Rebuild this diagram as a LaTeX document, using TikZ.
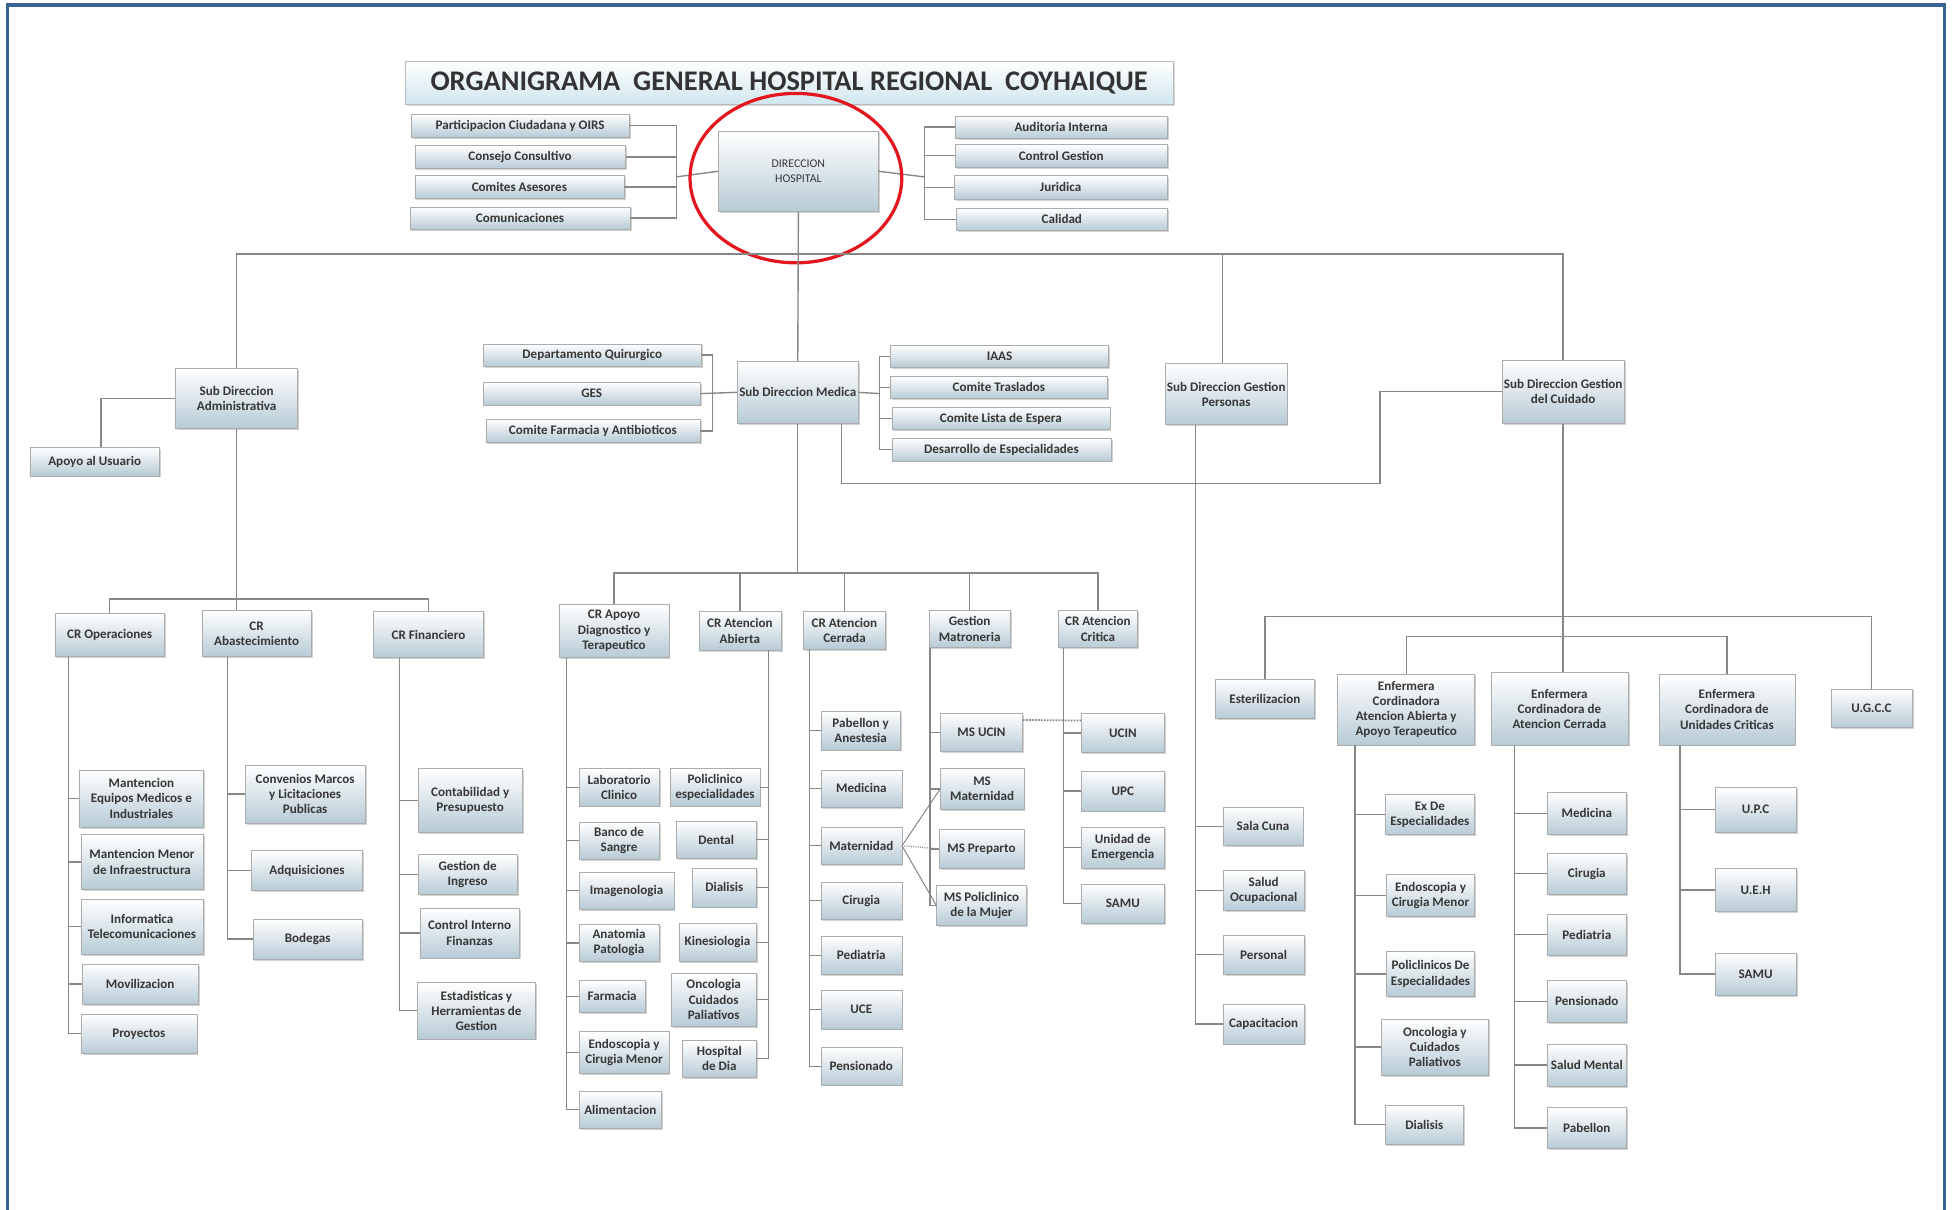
\documentclass[tikz,border=0pt]{standalone}
\usepackage{fontspec}
\setmainfont{Carlito}
\usetikzlibrary{shadows,shapes.geometric}
\definecolor{frameblue}{RGB}{58,99,150}
\definecolor{boxbot}{RGB}{184,203,214}
\definecolor{titlebot}{RGB}{208,230,238}
\definecolor{txt}{RGB}{55,55,55}
\definecolor{ln}{RGB}{135,135,135}
\definecolor{ringred}{RGB}{228,22,30}
\tikzset{
  box/.style={draw=gray!65, top color=white, bottom color=boxbot,
    drop shadow={shadow xshift=1.3pt,shadow yshift=-1.3pt,opacity=0.35},
    text=txt, font=\fontsize{10.5}{12.2}\selectfont\bfseries, align=center, inner sep=1pt},
  titlebox/.style={draw=gray!55, top color=white, bottom color=titlebot,
    drop shadow={shadow xshift=1.5pt,shadow yshift=-1.5pt,opacity=0.3},
    text=black!80, font=\fontsize{22.8}{27}\selectfont\bfseries, inner sep=1pt},
  conn/.style={draw=ln, line width=1.1pt},
  thinconn/.style={draw=ln, line width=0.8pt},
}
\newcommand\bx[7][]{\node[box,minimum width={#4-#2},minimum height={#5-#3},#1] (#6) at ({(#2+#4)/2},{(#3+#5)/2}) {#7};}
\begin{document}
\begin{tikzpicture}[x=1pt,y=-1pt]
\useasboundingbox (0,0) rectangle (1568,971);
\fill[white] (0,0) rectangle (1568,971);
\draw[frameblue, line width=2.6pt] (6,975) -- (6,4) -- (1561,4) -- (1561,975);

% header
\node[titlebox, minimum width=617, minimum height=35] (title) at (633.5,66.5) {ORGANIGRAMA\ \ GENERAL HOSPITAL REGIONAL\ \ COYHAIQUE};
\bx[font=\fontsize{9.5}{11.5}\selectfont]{577}{105}{705}{170}{dir}{DIRECCION\\HOSPITAL}
\bx{330}{92}{505}{110}{pc}{Participacion Ciudadana y OIRS}
\bx{333}{117}{502}{135}{cc}{Consejo Consultivo}
\bx{333}{141}{501}{159}{ca}{Comites Asesores}
\bx{329}{166}{506}{184}{com}{Comunicaciones}
\bx{767}{93}{937}{111}{ai}{Auditoria Interna}
\bx{767}{116}{937}{134}{cg}{Control Gestion}
\bx{766}{141}{937}{160}{jur}{Juridica}
\bx{768}{167}{937}{185}{cal}{Calidad}
\coordinate (dL) at (543,142);
\coordinate (dR) at (742,142);
\foreach \c in {pc,cc,ca,com} \draw[conn] (\c.east) -| (dL);
\draw[conn] (dL) -- (dir.west);
\foreach \c in {ai,cg,jur,cal} \draw[conn] (\c.west) -| (dR);
\draw[conn] (dR) -- (dir.east);
\node[draw=ringred, line width=2.6pt, ellipse, minimum width=170, minimum height=136] (ring) at (639,143) {};

% level 2
\bx{141}{296}{239}{344}{sda}{Sub Direccion\\Administrativa}
\bx{24}{359}{128}{382}{apoyo}{Apoyo al Usuario}
\bx{592}{290}{689}{340}{sdm}{Sub Direccion Medica}
\bx{388}{276}{563}{294}{dq}{Departamento Quirurgico}
\bx{388}{307}{562}{325}{ges}{GES}
\bx{390}{337}{562}{355}{cfa}{Comite Farmacia y Antibioticos}
\bx{715}{277}{890}{295}{iaas}{IAAS}
\bx{715}{302}{889}{320}{ct}{Comite Traslados}
\bx{716}{327}{891}{345}{cle}{Comite Lista de Espera}
\bx{716}{352}{892}{370}{de}{Desarrollo de Especialidades}
\bx{936}{292}{1033}{341}{sdgp}{Sub Direccion Gestion\\Personas}
\bx{1206}{289}{1304}{340}{sdgc}{Sub Direccion Gestion\\del Cuidado}

\coordinate (b1) at (639,204);
\draw[conn] (dir.south) -- (sdm.north);
\draw[conn] (sda.north) |- (b1) -| (sdgc.north);
\draw[conn] (b1) -| ([xshift=-3pt]sdgp.north);
\draw[conn] (sda.west) -| ([xshift=5pt]apoyo.north);
\coordinate (sL) at (572,316);
\coordinate (sR) at (706,316);
\foreach \c in {dq,cfa} \draw[conn] (\c.east) -| (sL);
\draw[conn] (ges.east) -- (sdm.west);
\foreach \c in {iaas,ct,cle,de} \draw[conn] (\c.west) -| (sR);
\draw[conn] (sdm.east) -- (sR);
\coordinate (k) at (1108,388);
\draw[conn] ([xshift=35pt]sdm.south) |- (k) |- (sdgc.west);

% administrativa
\bx{44}{492}{132}{527}{crop}{CR Operaciones}
\bx{162}{490}{250}{527}{crab}{CR\\Abastecimiento}
\bx{300}{491}{388}{528}{crfin}{CR Financiero}
\coordinate (b2) at (194,481);
\draw[conn] (sda.south) -- (sda.south |- crab.north);
\draw[conn] (crop.north) |- (b2) -| (crfin.north);
\bx{64}{618}{163}{664}{me}{Mantencion\\Equipos Medicos e\\Industriales}
\bx{65}{670}{163}{714}{mm}{Mantencion Menor\\de Infraestructura}
\bx{65}{722}{163}{766}{it}{Informatica\\Telecomunicaciones}
\bx{66}{774}{159}{806}{mov}{Movilizacion}
\bx{65}{814}{158}{846}{proy}{Proyectos}
\foreach \c in {me,mm,it,mov,proy} \draw[conn] ([xshift=11pt]crop.south west) |- (\c.west);
\bx{197}{614}{293}{661}{conv}{Convenios Marcos\\y Licitaciones\\Publicas}
\bx{202}{683}{291}{715}{adq}{Adquisiciones}
\bx{203}{738}{291}{770}{bod}{Bodegas}
\foreach \c in {conv,adq,bod} \draw[conn] ([xshift=21pt]crab.south west) |- (\c.west);
\bx{336}{617}{419}{668}{cont}{Contabilidad y\\Presupuesto}
\bx{336}{686}{415}{718}{gi}{Gestion de\\Ingreso}
\bx{337}{729}{417}{769}{cif}{Control Interno\\Finanzas}
\bx{335}{789}{430}{834}{est1}{Estadisticas y\\Herramientas de\\Gestion}
\foreach \c in {cont,gi,cif,est1} \draw[conn] ([xshift=21pt]crfin.south west) |- (\c.west);

% medica
\bx{449}{485}{537}{528}{crad}{CR Apoyo\\Diagnostico y\\Terapeutico}
\bx{561}{491}{627}{522}{craa}{CR Atencion\\Abierta}
\bx{645}{491}{711}{521}{crac}{CR Atencion\\Cerrada}
\bx{746}{490}{811}{520}{gm}{Gestion\\Matroneria}
\bx{850}{490}{913}{520}{cracr}{CR Atencion\\Critica}
\coordinate (b3) at (640.5,460);
\draw[conn] (sdm.south) -- (b3);
\draw[conn] (crad.north) |- (b3) -| (cracr.north);
\foreach \c in {craa,crac,gm} \draw[conn] (b3) -| (\c.north);

\bx{465}{617}{529}{647}{lab}{Laboratorio\\Clinico}
\bx{465}{660}{529}{690}{bs}{Banco de\\Sangre}
\bx{465}{700}{541}{730}{img}{Imagenologia}
\bx{465}{742}{529}{772}{ap}{Anatomia\\Patologia}
\bx{465}{787}{518}{813}{farm}{Farmacia}
\bx{465}{828}{537}{862}{endo}{Endoscopia y\\Cirugia Menor}
\bx{465}{876}{531}{906}{alim}{Alimentacion}
\foreach \c in {lab,bs,img,ap,farm,endo,alim} \draw[conn] ([xshift=6pt]crad.south west) |- (\c.west);

\bx{538}{617}{610}{647}{poli}{Policlinico\\especialidades}
\bx{543}{659}{607}{689}{dental}{Dental}
\bx{556}{697}{607}{728}{dial}{Dialisis}
\bx{545}{741}{607}{772}{kine}{Kinesiologia}
\bx{539}{781}{607}{824}{onco}{Oncologia\\Cuidados\\Paliativos}
\bx{548}{835}{607}{865}{hdd}{Hospital\\de Dia}
\foreach \c in {poli,dental,dial,kine,onco,hdd} \draw[conn] ([xshift=-10pt]craa.south east) |- (\c.east);

\bx{659}{571}{723}{602}{pab}{Pabellon y\\Anestesia}
\bx{659}{618}{724}{648}{med}{Medicina}
\bx{659}{664}{724}{694}{mat}{Maternidad}
\bx{659}{708}{724}{738}{cir}{Cirugia}
\bx{659}{752}{724}{782}{ped}{Pediatria}
\bx{659}{795}{724}{826}{uce}{UCE}
\bx{659}{841}{724}{871}{pen}{Pensionado}
\foreach \c in {pab,med,mat,cir,ped,uce,pen} \draw[conn] ([xshift=5pt]crac.south west) |- (\c.west);

\bx{755}{573}{821}{603}{msucin}{MS UCIN}
\bx{755}{617}{822}{650}{msmat}{MS\\Maternidad}
\bx{754}{666}{822}{697}{msprep}{MS Preparto}
\bx{752}{711}{824}{743}{mspol}{MS Policlinico\\de la Mujer}
\foreach \c in {msucin,msmat,msprep,mspol} \draw[conn] ([xshift=1pt]gm.south west) |- (\c.west);
\draw[thinconn] (mat.east) -- (msmat.west);
\draw[thinconn] (mat.east) -- (mspol.west);
\draw[thinconn, densely dotted, line width=1pt] (mat.east) -- (msprep.west);

\bx{868}{573}{935}{604}{ucin}{UCIN}
\bx{868}{619}{935}{651}{upc}{UPC}
\bx{868}{664}{935}{697}{ue}{Unidad de\\Emergencia}
\bx{868}{710}{935}{741}{samua}{SAMU}
\foreach \c in {ucin,upc,ue,samua} \draw[conn] ([xshift=4pt]cracr.south west) |- (\c.west);
\draw[ln, densely dotted, line width=1.4pt] ([yshift=10pt]msucin.east) -- ([yshift=10pt]ucin.west);

% gestion personas
\bx{982}{648}{1046}{679}{sala}{Sala Cuna}
\bx{982}{699}{1047}{731}{salud}{Salud\\Ocupacional}
\bx{982}{751}{1047}{782}{pers}{Personal}
\bx{982}{806}{1047}{838}{cap}{Capacitacion}
\foreach \c in {sala,salud,pers,cap} \draw[conn] ([xshift=24pt]sdgp.south west) |- (\c.west);

% gestion del cuidado
\bx{976}{545}{1055}{577}{est}{Esterilizacion}
\bx{1074}{541}{1184}{598}{eaa}{Enfermera\\Cordinadora\\Atencion Abierta y\\Apoyo Terapeutico}
\bx{1197}{540}{1307}{598}{eac}{Enfermera\\Cordinadora de\\Atencion Cerrada}
\bx{1332}{541}{1441}{598}{euc}{Enfermera\\Cordinadora de\\Unidades Criticas}
\bx{1470}{553}{1535}{584}{ugcc}{U.G.C.C}
\coordinate (b4a) at (1255,495);
\coordinate (b4b) at (1255,511);
\draw[conn] (sdgc.south) -- (sdgc.south |- eac.north);
\draw[conn] (est.north) |- (b4a) -| (ugcc.north);
\draw[conn] (eaa.north) |- (b4b) -| (euc.north);

\bx{1112}{638}{1184}{670}{exde}{Ex De\\Especialidades}
\bx{1113}{702}{1184}{736}{endob}{Endoscopia y\\Cirugia Menor}
\bx{1113}{764}{1184}{800}{polde}{Policlinicos De\\Especialidades}
\bx{1109}{818}{1195}{863}{oncob}{Oncologia y\\Cuidados\\Paliativos}
\bx{1112}{887}{1175}{919}{dialb}{Dialisis}
\foreach \c in {exde,endob,polde,oncob,dialb} \draw[conn] ([xshift=14pt]eaa.south west) |- (\c.west);

\bx{1242}{636}{1306}{670}{medb}{Medicina}
\bx{1242}{685}{1306}{718}{cirb}{Cirugia}
\bx{1242}{734}{1306}{767}{pedb}{Pediatria}
\bx{1242}{787}{1306}{821}{penb}{Pensionado}
\bx{1242}{838}{1306}{872}{sm}{Salud Mental}
\bx{1242}{889}{1306}{922}{pabb}{Pabellon}
\foreach \c in {medb,cirb,pedb,penb,sm,pabb} \draw[conn] ([xshift=19pt]eac.south west) |- (\c.west);

\bx{1377}{632}{1442}{668}{upcb}{U.P.C}
\bx{1377}{697}{1442}{732}{ueh}{U.E.H}
\bx{1377}{765}{1442}{799}{samub}{SAMU}
\foreach \c in {upcb,ueh,samub} \draw[conn] ([xshift=17pt]euc.south west) |- (\c.west);
\end{tikzpicture}
\end{document}
